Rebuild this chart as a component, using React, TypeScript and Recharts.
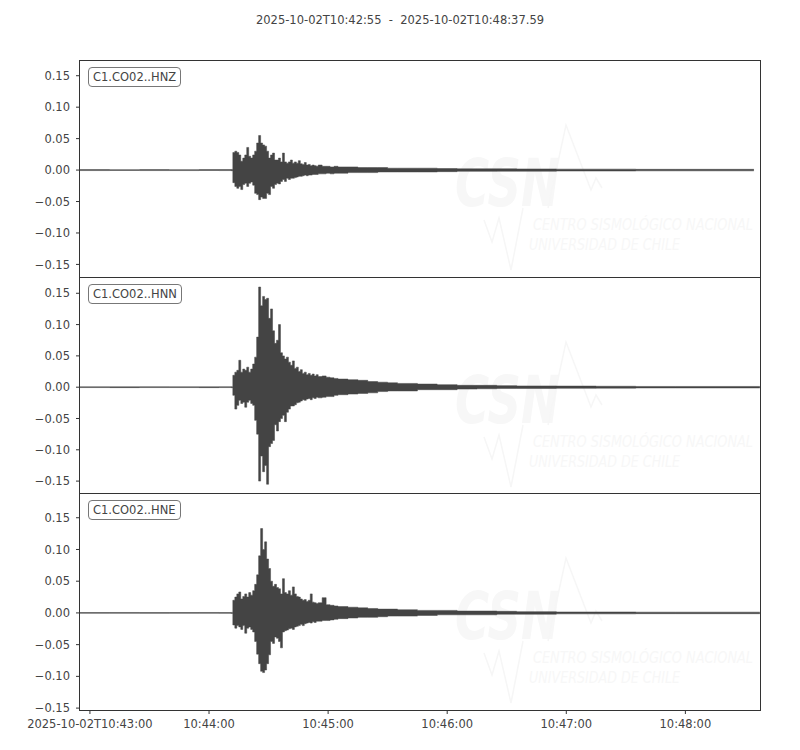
import React from 'react';
import { AreaChart, Area, XAxis, YAxis } from 'recharts';

// seconds after 2025-10-02T10:42:55
const envTime = [
  0, 15, 30, 45, 60, 70, 76,
  77, 78, 79, 80, 81, 82, 83, 84, 85, 86, 87, 88, 89, 90, 91, 92, 93, 94, 95, 96, 97, 98,
  99, 100, 101, 102, 103, 104, 105, 106, 107, 108, 109, 110, 111, 112, 113, 114, 115, 116,
  117, 118, 119, 120,
  122, 124, 126, 128, 130,
  135, 140, 145, 150, 155, 160,
  170, 180, 190, 200, 210, 220,
  240, 260, 280, 300, 320,
  339.5, 342.5,
];

// envelope (max / min per time bin)
const hnzHigh = [
  0.0008, 0.0007, 0.0008, 0.0007, 0.0008, 0.0008, 0.001,
  0.028, 0.03, 0.028, 0.024, 0.014, 0.019, 0.024, 0.036, 0.022, 0.019, 0.024, 0.03, 0.043, 0.055, 0.043, 0.04, 0.038, 0.03, 0.019, 0.024, 0.027, 0.016,
  0.016, 0.019, 0.013, 0.027, 0.013, 0.011, 0.013, 0.016, 0.011, 0.013, 0.011, 0.015, 0.01, 0.009, 0.012, 0.008, 0.009, 0.007,
  0.008, 0.007, 0.006, 0.008,
  0.006, 0.006, 0.005, 0.006, 0.005,
  0.005, 0.004, 0.004, 0.004, 0.003, 0.003,
  0.003, 0.0025, 0.002, 0.002, 0.002, 0.0018,
  0.0015, 0.0015, 0.0012, 0.0012, 0.0012,
  0.001, null,
];
const hnzLow = [
  -0.0008, -0.0007, -0.0008, -0.0008, -0.0007, -0.0008, -0.001,
  -0.02, -0.026, -0.029, -0.026, -0.031, -0.023, -0.021, -0.026, -0.021, -0.019, -0.024, -0.037, -0.039, -0.047, -0.043, -0.045, -0.045, -0.037, -0.039, -0.026, -0.029, -0.023,
  -0.021, -0.022, -0.018, -0.015, -0.018, -0.013, -0.015, -0.013, -0.013, -0.012, -0.011, -0.01, -0.01, -0.009, -0.008, -0.009, -0.008, -0.008,
  -0.007, -0.007, -0.007, -0.006,
  -0.006, -0.005, -0.006, -0.005, -0.005,
  -0.004, -0.004, -0.004, -0.003, -0.003, -0.003,
  -0.003, -0.0025, -0.002, -0.002, -0.0018, -0.0018,
  -0.0015, -0.0015, -0.0012, -0.0012, -0.0012,
  -0.001, null,
];

const hnnHigh = [
  0.0006, 0.0006, 0.0007, 0.0006, 0.0006, 0.0007, 0.0008,
  0.019, 0.024, 0.027, 0.043, 0.024, 0.029, 0.027, 0.032, 0.024, 0.029, 0.037, 0.048, 0.08, 0.16, 0.13, 0.145, 0.14, 0.142, 0.11, 0.125, 0.09, 0.07,
  0.075, 0.1, 0.055, 0.05, 0.045, 0.048, 0.04, 0.035, 0.042, 0.03, 0.032, 0.025, 0.028, 0.022, 0.024, 0.02, 0.022, 0.019,
  0.021, 0.018, 0.02, 0.017,
  0.018, 0.016, 0.015, 0.014, 0.013,
  0.012, 0.011, 0.009, 0.008, 0.007, 0.006,
  0.005, 0.004, 0.003, 0.003, 0.0025, 0.002,
  0.0018, 0.0015, 0.0012, 0.0012, 0.0012,
  0.0012, 0.001,
];
const hnnLow = [
  -0.0006, -0.0007, -0.0006, -0.0006, -0.0007, -0.0006, -0.0008,
  -0.013, -0.035, -0.029, -0.021, -0.026, -0.024, -0.032, -0.024, -0.021, -0.026, -0.029, -0.053, -0.075, -0.15, -0.11, -0.135, -0.125, -0.155, -0.095, -0.09, -0.085, -0.06,
  -0.07, -0.055, -0.05, -0.045, -0.055, -0.04, -0.035, -0.03, -0.03, -0.028, -0.025, -0.024, -0.022, -0.02, -0.021, -0.019, -0.018, -0.02,
  -0.017, -0.018, -0.016, -0.017,
  -0.016, -0.015, -0.015, -0.013, -0.012,
  -0.011, -0.01, -0.009, -0.007, -0.006, -0.006,
  -0.004, -0.004, -0.003, -0.0025, -0.002, -0.002,
  -0.0018, -0.0015, -0.0012, -0.0012, -0.0012,
  -0.0012, -0.001,
];

const hneHigh = [
  0.0006, 0.0007, 0.0006, 0.0006, 0.0007, 0.0006, 0.0008,
  0.02, 0.025, 0.03, 0.033, 0.022, 0.026, 0.03, 0.025, 0.032, 0.028, 0.035, 0.045, 0.06, 0.09, 0.133, 0.1, 0.112, 0.085, 0.07, 0.05, 0.042, 0.045,
  0.04, 0.038, 0.03, 0.054, 0.032, 0.03, 0.035, 0.028, 0.041, 0.03, 0.026, 0.025, 0.022, 0.02, 0.021, 0.018, 0.02, 0.03,
  0.017, 0.016, 0.015, 0.016,
  0.024, 0.013, 0.012, 0.011, 0.01,
  0.009, 0.008, 0.007, 0.006, 0.006, 0.005,
  0.004, 0.004, 0.003, 0.003, 0.0025, 0.002,
  0.0015, 0.0015, 0.0012, 0.0012, 0.0012,
  0.0012, 0.001,
];
const hneLow = [
  -0.0006, -0.0006, -0.0007, -0.0006, -0.0006, -0.0007, -0.0008,
  -0.019, -0.024, -0.02, -0.022, -0.026, -0.02, -0.032, -0.024, -0.022, -0.026, -0.03, -0.045, -0.065, -0.08, -0.092, -0.094, -0.09, -0.08, -0.066, -0.045, -0.048, -0.038,
  -0.04, -0.045, -0.055, -0.03, -0.028, -0.027, -0.025, -0.024, -0.026, -0.022, -0.021, -0.02, -0.018, -0.02, -0.017, -0.016, -0.015, -0.016,
  -0.014, -0.015, -0.013, -0.013,
  -0.012, -0.012, -0.011, -0.01, -0.009,
  -0.008, -0.007, -0.007, -0.006, -0.005, -0.005,
  -0.004, -0.003, -0.003, -0.003, -0.002, -0.002,
  -0.0015, -0.0015, -0.0012, -0.0012, -0.0012,
  -0.0012, -0.001,
];

const channelLabels = ['C1.CO02..HNZ', 'C1.CO02..HNN', 'C1.CO02..HNE'];
const yTicks = [-0.15, -0.1, -0.05, 0, 0.05, 0.1, 0.15];
const xTicks = [5, 65, 125, 185, 245, 305];
const xTickLabels = ['2025-10-02T10:43:00', '10:44:00', '10:45:00', '10:46:00', '10:47:00', '10:48:00'];
const titleText = '2025-10-02T10:42:55  -  2025-10-02T10:48:37.59';

const FONT = '"DejaVu Sans", sans-serif';
const INK = '#444';

// envelope band: [min, max] per time bin
const toBand = (high: (number | null)[], low: (number | null)[]) =>
  envTime.map((t, i) => ({
    t,
    range: high[i] == null || low[i] == null ? null : [low[i], high[i]],
  }));

const fmtY = (v: number) => {
  const s = Math.abs(v).toFixed(2);
  return v < -1e-9 ? '\u2212' + s : s;
};
const fmtX = (t: number) => xTickLabels[xTicks.indexOf(t)] ?? '';

const Watermark = ({ top }: { top: number }) => (
  <svg
    width={800}
    height={220}
    style={{ position: 'absolute', left: 0, top, overflow: 'visible' }}
  >
    <g fill="#f7f7f7" fontFamily={FONT} fontStyle="italic">
      <text x={455} y={146} fontSize={66} fontWeight="bold" textLength={105} lengthAdjust="spacingAndGlyphs">
        CSN
      </text>
      <text x={533} y={170} fontSize={15} textLength={220} lengthAdjust="spacingAndGlyphs">
        CENTRO SISMOLÓGICO NACIONAL
      </text>
      <text x={529} y={190} fontSize={15} textLength={151} lengthAdjust="spacingAndGlyphs">
        UNIVERSIDAD DE CHILE
      </text>
    </g>
    <g fill="none" stroke="#f6f6f6" strokeWidth={1.5}>
      <polyline points="548,148 566,65 591,130 596,118 602,128" />
      <polyline points="484,160 492,182 499,158 511,210 523,148" />
    </g>
  </svg>
);

type PanelProps = {
  top: number;
  height: number;
  domain: [number, number];
  high: (number | null)[];
  low: (number | null)[];
  label: string;
  showX?: boolean;
};

const Panel = ({ top, height, domain, high, low, label, showX }: PanelProps) => {
  const data = toBand(high, low);
  const tickStyle = { fill: INK, fontSize: 11.5, fontFamily: FONT };
  return (
    <>
      <Watermark top={top} />
      <div style={{ position: 'absolute', left: 0, top }}>
        <AreaChart
          width={800}
          height={height + (showX ? 40 : 0)}
          data={data}
          margin={{ top: 0, right: 40, bottom: 0, left: 0 }}
        >
          <XAxis
            type="number"
            dataKey="t"
            domain={[0, 342.59]}
            allowDataOverflow
            ticks={xTicks}
            interval={0}
            tickFormatter={fmtX}
            hide={!showX}
            height={40}
            axisLine={false}
            tickSize={4}
            tickMargin={6}
            tickLine={{ stroke: '#333' }}
            tick={tickStyle}
          />
          <YAxis
            type="number"
            domain={domain}
            allowDataOverflow
            ticks={yTicks}
            interval={0}
            tickFormatter={fmtY}
            width={80}
            axisLine={false}
            tickSize={4}
            tickMargin={6}
            tickLine={{ stroke: '#333' }}
            tick={tickStyle}
          />
          <Area
            type="stepAfter"
            dataKey="range"
            stroke={INK}
            strokeWidth={0.5}
            fill={INK}
            fillOpacity={1}
            dot={false}
            activeDot={false}
            connectNulls={false}
            isAnimationActive={false}
          />
        </AreaChart>
      </div>
      <div
        style={{
          position: 'absolute',
          left: 79,
          top,
          width: 682,
          height: height + 1,
          boxSizing: 'border-box',
          border: '1px solid #333',
          pointerEvents: 'none',
        }}
      />
      <div
        style={{
          position: 'absolute',
          left: 88,
          top: top + 7,
          height: 20,
          boxSizing: 'border-box',
          padding: '0 4px',
          border: '1px solid #777',
          borderRadius: 4,
          background: '#fff',
          color: INK,
          fontSize: 11.5,
          lineHeight: '18px',
          fontFamily: FONT,
          whiteSpace: 'nowrap',
        }}
      >
        {label}
      </div>
    </>
  );
};

export default function App() {
  return (
    <div
      style={{
        position: 'absolute',
        left: 0,
        top: 0,
        width: 800,
        height: 750,
        background: '#fff',
        fontFamily: FONT,
      }}
    >
      <div
        style={{
          position: 'absolute',
          top: 13,
          left: 0,
          width: 800,
          textAlign: 'center',
          fontSize: 11.5,
          color: INK,
          whiteSpace: 'pre',
        }}
      >
        {titleText}
      </div>
      <Panel top={60} height={217} domain={[-0.17, 0.175]} high={hnzHigh} low={hnzLow} label={channelLabels[0]} />
      <Panel top={277} height={216} domain={[-0.169, 0.176]} high={hnnHigh} low={hnnLow} label={channelLabels[1]} />
      <Panel top={493} height={217} domain={[-0.153, 0.189]} high={hneHigh} low={hneLow} label={channelLabels[2]} showX />
    </div>
  );
}
